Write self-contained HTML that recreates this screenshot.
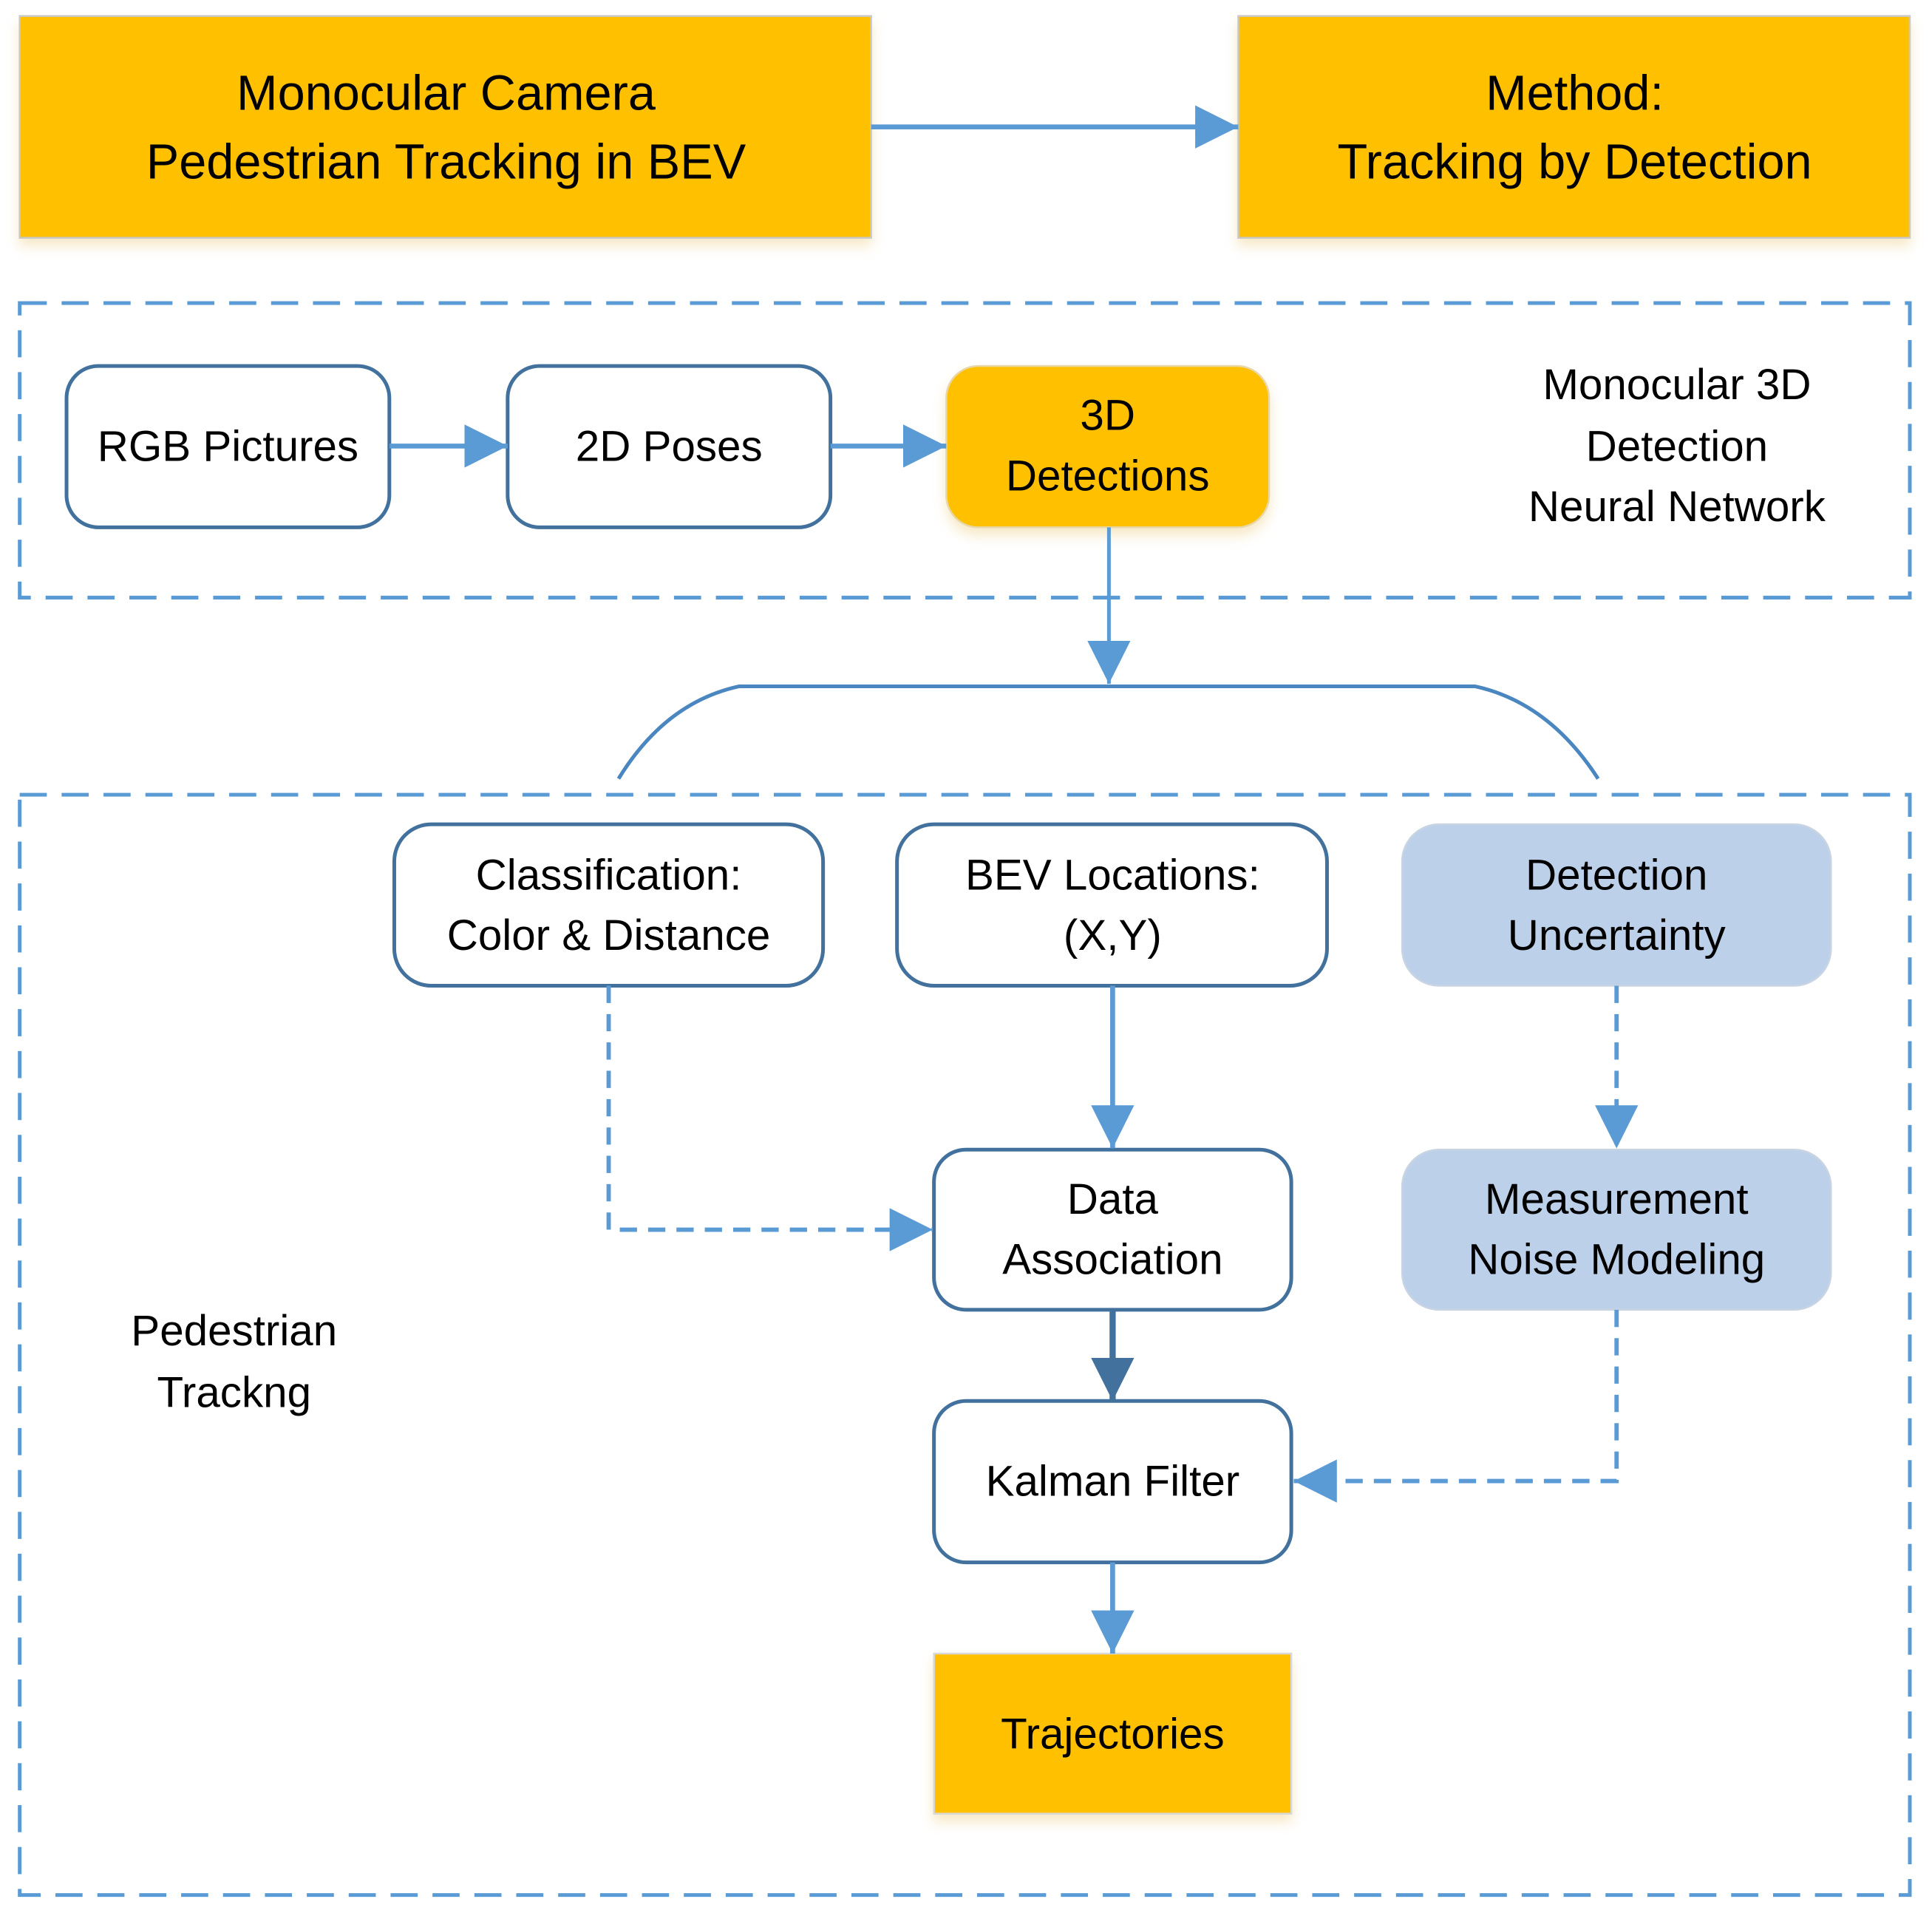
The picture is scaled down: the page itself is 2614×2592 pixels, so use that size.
<!DOCTYPE html>
<html><head><meta charset="utf-8"><style>
html,body{margin:0;padding:0;background:#fff;}
svg{display:block;}
text{font-family:"Liberation Sans",sans-serif;fill:#000;text-anchor:middle;}
</style></head><body>
<svg width="2614" height="2592" viewBox="0 0 1568 1555" preserveAspectRatio="none" xmlns="http://www.w3.org/2000/svg">
<defs>
<marker id="a" viewBox="0 0 10 10" refX="10" refY="5" markerWidth="35" markerHeight="35" markerUnits="userSpaceOnUse" orient="auto"><path d="M0,0 L10,5 L0,10 z" fill="#5B9BD5"/></marker>
<marker id="d" viewBox="0 0 10 10" refX="10" refY="5" markerWidth="35" markerHeight="35" markerUnits="userSpaceOnUse" orient="auto"><path d="M0,0 L10,5 L0,10 z" fill="#41719C"/></marker>
<filter id="s" x="-10%" y="-10%" width="120%" height="130%"><feDropShadow dx="0" dy="6" stdDeviation="5" flood-color="#e8c060" flood-opacity="0.35"/></filter>
</defs>
<rect x="16" y="13" width="691" height="180" fill="#FFC000" stroke="#C9C9C9" stroke-width="1.5" filter="url(#s)"/>
<rect x="1005" y="13" width="545" height="180" fill="#FFC000" stroke="#C9C9C9" stroke-width="1.5" filter="url(#s)"/>
<text x="362" y="89" font-size="40">Monocular Camera</text>
<text x="362" y="145" font-size="40">Pedestrian Tracking in BEV</text>
<text x="1278" y="89" font-size="40">Method:</text>
<text x="1278" y="145" font-size="40">Tracking by Detection</text>
<line x1="707" y1="103" x2="1005" y2="103" stroke="#5B9BD5" stroke-width="4" marker-end="url(#a)"/>

<rect x="16" y="246" width="1534" height="239" fill="none" stroke="#5B9BD5" stroke-width="3" stroke-dasharray="22,12"/>
<rect x="54" y="297" width="262" height="131" rx="26" fill="#fff" stroke="#41719C" stroke-width="3"/>
<rect x="412" y="297" width="262" height="131" rx="26" fill="#fff" stroke="#41719C" stroke-width="3"/>
<rect x="768" y="297" width="262" height="131" rx="26" fill="#FFC000" stroke="#E8D8A8" stroke-width="1.5" filter="url(#s)"/>
<text x="185" y="374" font-size="35">RGB Pictures</text>
<text x="543" y="374" font-size="35">2D Poses</text>
<text x="899" y="349" font-size="35">3D</text>
<text x="899" y="398" font-size="35">Detections</text>
<text x="1361" y="324" font-size="35">Monocular 3D</text>
<text x="1361" y="374" font-size="35">Detection</text>
<text x="1361" y="423" font-size="35">Neural Network</text>
<line x1="316" y1="362" x2="412" y2="362" stroke="#5B9BD5" stroke-width="4" marker-end="url(#a)"/>
<line x1="674" y1="362" x2="768" y2="362" stroke="#5B9BD5" stroke-width="4" marker-end="url(#a)"/>
<line x1="900" y1="428" x2="900" y2="555" stroke="#5B9BD5" stroke-width="3" marker-end="url(#a)"/>
<path d="M502,632 Q540,570 600,557 L1197,557 Q1257,570 1297,632" fill="none" stroke="#4A86C0" stroke-width="3"/>

<rect x="16" y="645" width="1534" height="893" fill="none" stroke="#5B9BD5" stroke-width="3" stroke-dasharray="22,12"/>
<rect x="320" y="669" width="348" height="131" rx="30" fill="#fff" stroke="#41719C" stroke-width="3"/>
<rect x="728" y="669" width="349" height="131" rx="30" fill="#fff" stroke="#41719C" stroke-width="3"/>
<rect x="1138" y="669" width="348" height="131" rx="30" fill="#BDD0E9" stroke="#C8D4E4" stroke-width="1.5"/>
<text x="494" y="722" font-size="35">Classification:</text>
<text x="494" y="771" font-size="35">Color &amp; Distance</text>
<text x="903" y="722" font-size="35">BEV Locations:</text>
<text x="903" y="771" font-size="35">(X,Y)</text>
<text x="1312" y="722" font-size="35">Detection</text>
<text x="1312" y="771" font-size="35">Uncertainty</text>

<rect x="758" y="933" width="290" height="130" rx="26" fill="#fff" stroke="#41719C" stroke-width="3"/>
<rect x="1138" y="933" width="348" height="130" rx="30" fill="#BDD0E9" stroke="#C8D4E4" stroke-width="1.5"/>
<text x="903" y="985" font-size="35">Data</text>
<text x="903" y="1034" font-size="35">Association</text>
<text x="1312" y="985" font-size="35">Measurement</text>
<text x="1312" y="1034" font-size="35">Noise Modeling</text>

<rect x="758" y="1137" width="290" height="131" rx="26" fill="#fff" stroke="#41719C" stroke-width="3"/>
<text x="903" y="1214" font-size="35">Kalman Filter</text>
<rect x="758" y="1342" width="290" height="130" fill="#FFC000" stroke="#D9D9D9" stroke-width="1.5" filter="url(#s)"/>
<text x="903" y="1419" font-size="35">Trajectories</text>

<text x="190" y="1092" font-size="35">Pedestrian</text>
<text x="190" y="1142" font-size="35">Trackng</text>

<polyline points="494,800 494,998 757,998" fill="none" stroke="#5B9BD5" stroke-width="3.5" stroke-dasharray="14,9" marker-end="url(#a)"/>
<line x1="903" y1="800" x2="903" y2="932" stroke="#5B9BD5" stroke-width="4" marker-end="url(#a)"/>
<line x1="903" y1="1063" x2="903" y2="1137" stroke="#41719C" stroke-width="5" marker-end="url(#d)"/>
<line x1="1312" y1="800" x2="1312" y2="932" stroke="#5B9BD5" stroke-width="3.5" stroke-dasharray="14,9" marker-end="url(#a)"/>
<polyline points="1312,1063 1312,1202 1050,1202" fill="none" stroke="#5B9BD5" stroke-width="3.5" stroke-dasharray="14,9" marker-end="url(#a)"/>
<line x1="903" y1="1268" x2="903" y2="1342" stroke="#5B9BD5" stroke-width="4" marker-end="url(#a)"/>
</svg>
</body></html>
